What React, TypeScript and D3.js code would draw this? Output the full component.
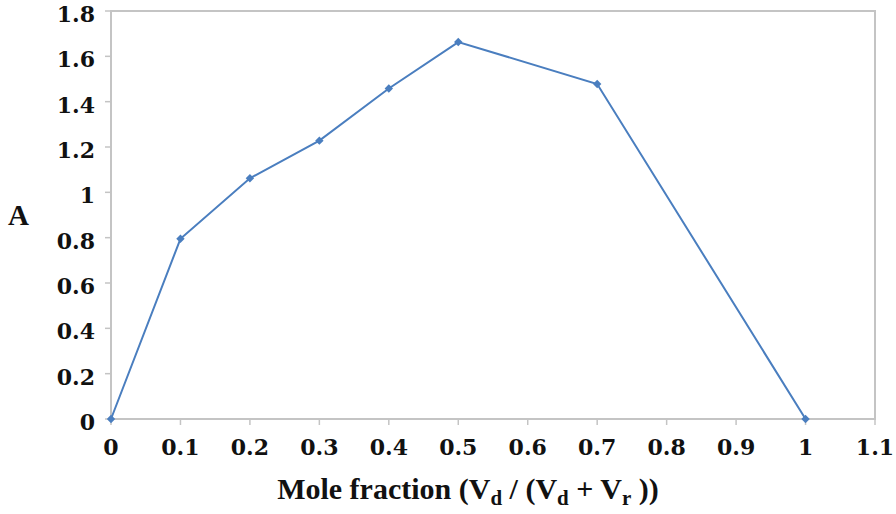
import React from "react";
import * as d3 from "d3";

const xValues = [0, 0.1, 0.2, 0.3, 0.4, 0.5, 0.7, 1];
const yValues = [0, 0.795, 1.062, 1.228, 1.458, 1.663, 1.478, 0];
const xTicks = [0, 0.1, 0.2, 0.3, 0.4, 0.5, 0.6, 0.7, 0.8, 0.9, 1, 1.1];
const yTicks = [0, 0.2, 0.4, 0.6, 0.8, 1, 1.2, 1.4, 1.6, 1.8];

const W = 896;
const H = 514;
const left = 111;
const right = 875;
const top = 11;
const bottom = 419;

export default function App() {
  const x = d3.scaleLinear().domain([0, 1.1]).range([left, right]);
  const y = d3.scaleLinear().domain([0, 1.8]).range([bottom, top]);
  const pts = xValues.map((v, i) => [x(v), y(yValues[i])] as [number, number]);
  const line = d3.line()(pts) || "";
  const tickFont = "'DejaVu Serif', serif";
  const titleFont = "'Liberation Serif', 'Times New Roman', serif";
  const blue = "#4A7EBF";
  const frame = "#C4C4C4";
  return (
    <svg width={W} height={H} style={{ position: "absolute", left: 0, top: 0, background: "#fff" }}>
      <rect x={left} y={top} width={right - left} height={bottom - top} fill="none" stroke={frame} strokeWidth={2} />
      {xTicks.map((t) => (
        <g key={"x" + t}>
          <line x1={x(t)} x2={x(t)} y1={bottom} y2={bottom + 6} stroke={frame} strokeWidth={1.5} />
          <text x={x(t)} y={bottom + 36} textAnchor="middle" fontFamily={tickFont} fontWeight="bold" fontSize={22} fill="#111">
            {String(t)}
          </text>
        </g>
      ))}
      {yTicks.map((t) => (
        <g key={"y" + t}>
          <line x1={left - 6} x2={left} y1={y(t)} y2={y(t)} stroke={frame} strokeWidth={1.5} />
          <text x={95} y={y(t) + 11} textAnchor="end" fontFamily={tickFont} fontWeight="bold" fontSize={22} fill="#111">
            {String(t)}
          </text>
        </g>
      ))}
      <path d={line} fill="none" stroke={blue} strokeWidth={2} />
      {pts.map((p, i) => (
        <path key={i} d={d3.symbol(d3.symbolDiamond2, 45)() || ""} transform={`translate(${p[0]},${p[1]})`} fill={blue} />
      ))}
      <text x={8} y={225} fontFamily={titleFont} fontWeight="bold" fontSize={29} fill="#111">A</text>
      <text x={468} y={499} textAnchor="middle" fontFamily={titleFont} fontWeight="bold" fontSize={30} fill="#111">
        <tspan>Mole fraction (V</tspan>
        <tspan fontSize={21} dy={6}>d</tspan>
        <tspan dy={-6}> / (V</tspan>
        <tspan fontSize={21} dy={6}>d</tspan>
        <tspan dy={-6}> + V</tspan>
        <tspan fontSize={21} dy={6}>r</tspan>
        <tspan dy={-6}>{"  ))"}</tspan>
      </text>
    </svg>
  );
}
